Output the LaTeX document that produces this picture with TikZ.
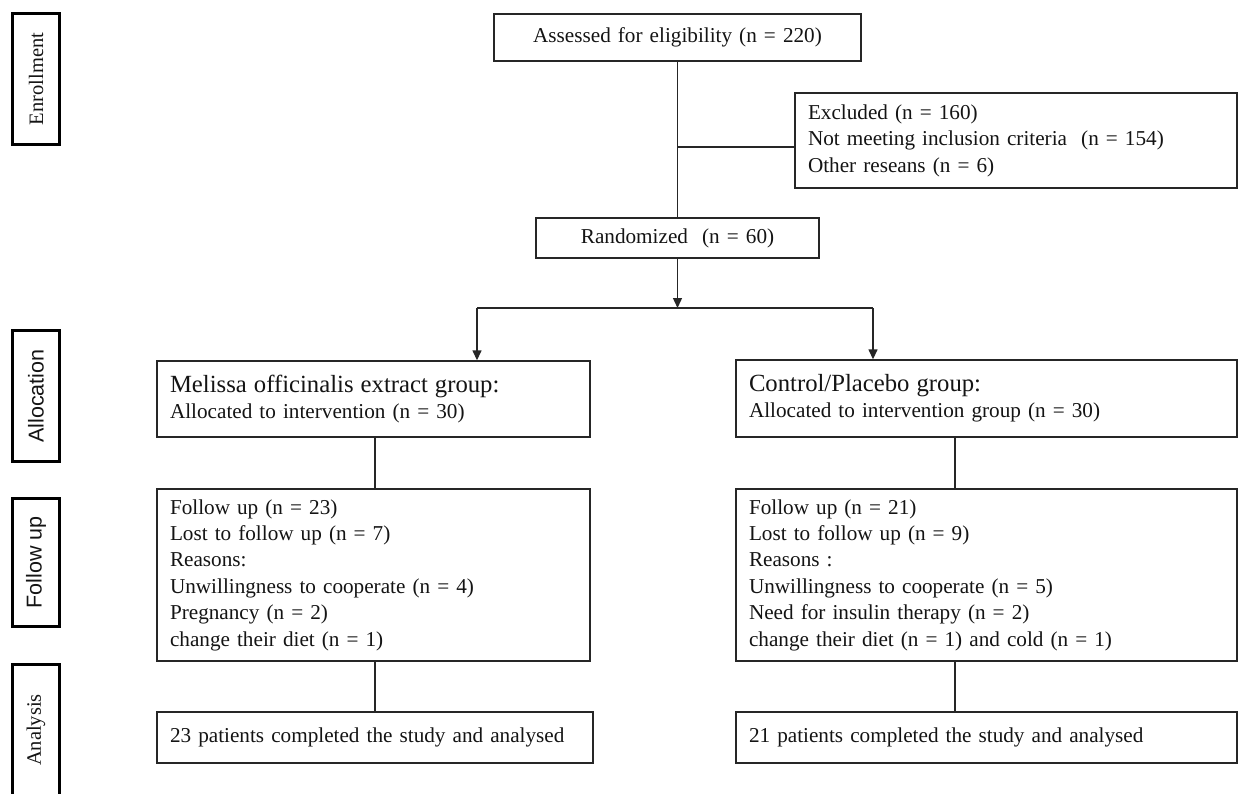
\documentclass[tikz,border=0pt]{standalone}
\usepackage{fontspec}
\setmainfont{Liberation Serif}
\setsansfont{Liberation Sans}
\usetikzlibrary{arrows.meta}
\definecolor{lc}{HTML}{262626}
\definecolor{tc}{HTML}{141414}
\newcommand\mainfs{\fontsize{21.2}{26.4}\selectfont}
\newcommand\titlefs{\fontsize{24.7}{30}\selectfont}
\newcommand\sidefs{\fontsize{20.5}{24}\selectfont}
\newcommand\sidesf{\sffamily\fontsize{21.5}{24}\selectfont}
\tikzset{
  box/.style={draw=lc, text=tc, line width=1.4pt, inner xsep=13pt, inner ysep=0pt, font=\mainfs, align=left},
  sidebox/.style={draw=black, text=tc, line width=3.2pt, rotate=90, inner sep=0pt, minimum height=47pt},
  conn/.style={draw=lc, line width=1.4pt},
  arr/.style={conn, -{Triangle[length=10pt,width=9pt]}},
}
\begin{document}
\begin{tikzpicture}[x=1pt,y=-1pt]
\useasboundingbox[fill=white] (0,0) rectangle (1239,793);

% side labels
\node[sidebox, minimum width=131pt, font=\sidefs] (enr) at (36,79) {Enrollment};
\node[sidebox, minimum width=131pt, font=\sidesf] (alc) at (36,396) {Allocation};
\node[sidebox, minimum width=128pt, font=\sidesf] (fol) at (36,562.5) {Follow up};
\node[sidebox, minimum width=131pt, font=\sidefs] (ana) at (36,730) {Analysis};

% main boxes
\node[box, align=center, text width=341pt, minimum height=47pt] (assess) at (677.5,37.5) {Assessed for eligibility (n = 220)};
\node[box, text width=416pt, minimum height=95pt] (excl) at (1016,140.5) {Excluded (n = 160)\\Not meeting inclusion criteria \ (n = 154)\\Other reseans (n = 6)};
\node[box, align=center, text width=257pt, minimum height=40pt] (rand) at (677.5,238) {Randomized \ (n = 60)};

\node[box, text width=407pt, minimum height=76pt] (mel) at (373.5,399) {{\titlefs Melissa officinalis extract group:}\\Allocated to intervention (n = 30)};
\node[box, text width=475pt, minimum height=77pt] (ctl) at (986.5,398.5) {{\titlefs Control/Placebo group:}\\Allocated to intervention group (n = 30)};

\node[box, text width=407pt, minimum height=172pt] (fl) at (373.5,575) {Follow up (n = 23)\\Lost to follow up (n = 7)\\Reasons:\\Unwillingness to cooperate (n = 4)\\Pregnancy (n = 2)\\change their diet (n = 1)};
\node[box, text width=475pt, minimum height=172pt] (fr) at (986.5,575) {Follow up (n = 21)\\Lost to follow up (n = 9)\\Reasons :\\Unwillingness to cooperate (n = 5)\\Need for insulin therapy (n = 2)\\change their diet (n = 1) and cold (n = 1)};

\node[box, text width=410pt, minimum height=51pt] (al) at (375,737.5) {23 patients completed the study and analysed};
\node[box, text width=475pt, minimum height=51pt] (ar) at (986.5,737.5) {21 patients completed the study and analysed};

% connectors
\coordinate (br) at (677.5,147);
\coordinate (jn) at (677.5,308);
\coordinate (jl) at (477,308);
\coordinate (jr) at (873,308);
\coordinate (cl) at (375,0);
\coordinate (cr) at (955,0);

\draw[conn] (assess.south) -- (rand.north);
\draw[conn] (br) -- (br -| excl.west);
\draw[arr] (rand.south) -- (jn);
\draw[conn] (jl) -- (jr);
\draw[arr] (jl) -- (jl |- mel.north);
\draw[arr] (jr) -- (jr |- ctl.north);
\draw[conn] (cl |- mel.south) -- (cl |- fl.north);
\draw[conn] (cl |- fl.south) -- (cl |- al.north);
\draw[conn] (cr |- ctl.south) -- (cr |- fr.north);
\draw[conn] (cr |- fr.south) -- (cr |- ar.north);
\end{tikzpicture}
\end{document}
